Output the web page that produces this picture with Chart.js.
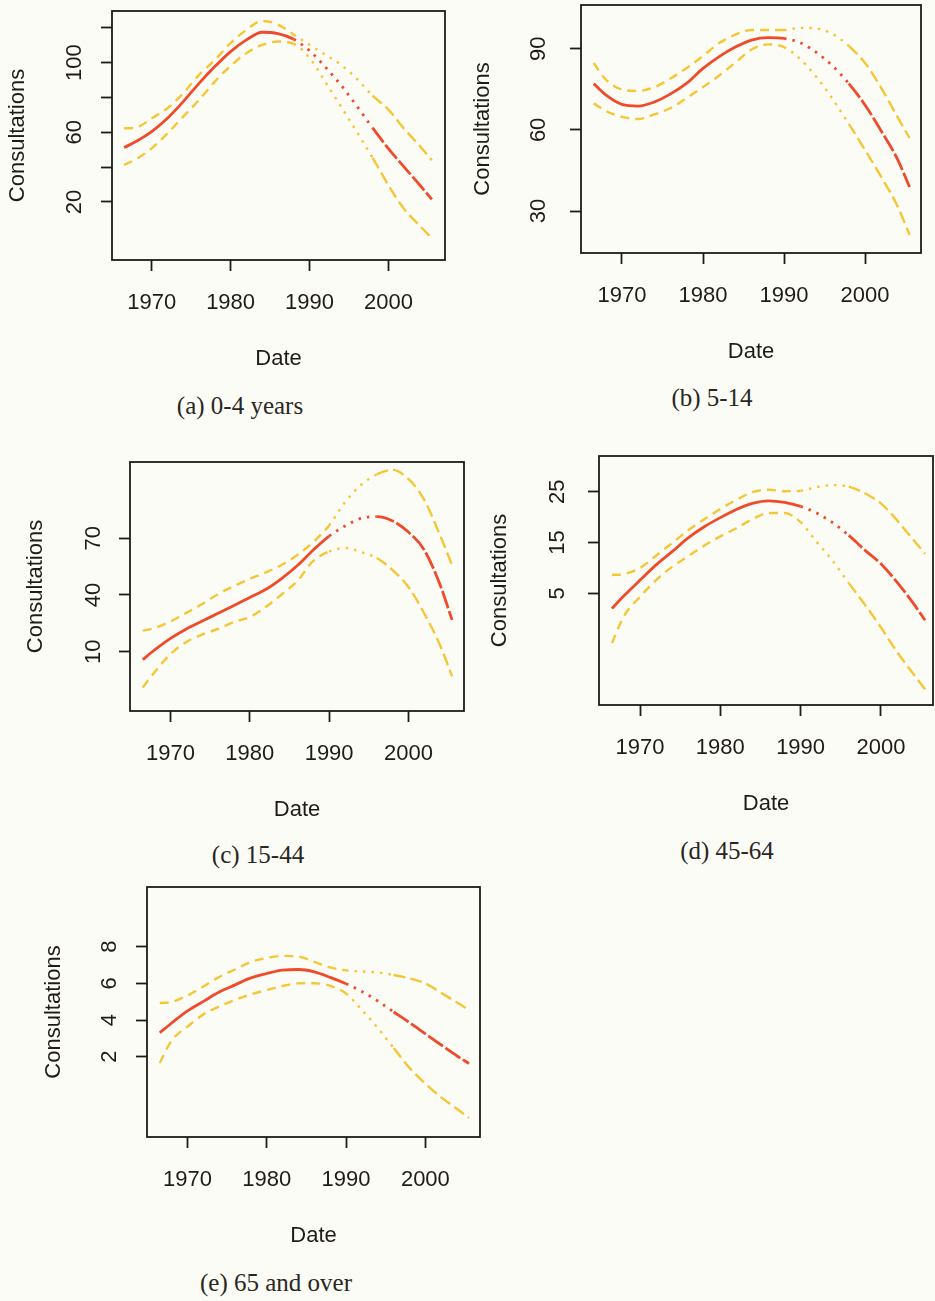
<!DOCTYPE html>
<html>
<head>
<meta charset="utf-8">
<title>Consultations by age group</title>
<script src="https://cdn.jsdelivr.net/npm/chart.js@4.4.0/dist/chart.umd.min.js"></script>
<style>
    html, body {
        margin: 0;
        padding: 0;
    }

    body {
        position: relative;
        width: 935px;
        height: 1301px;
        overflow: hidden;
        background: #fcfcf7;
    }

    .panel-canvas {
        position: absolute;
    }

    .caption {
        position: absolute;
        transform: translate(-50%, -50%);
        font-family: "Liberation Serif", "Times New Roman", serif;
        font-size: 25px;
        color: #2a2622;
        white-space: nowrap;
    }
</style>
</head>
<body>
<div class="caption" style="left:240px; top:406px;">(a) 0-4 years</div>
<div class="caption" style="left:712px; top:398px;">(b) 5-14</div>
<div class="caption" style="left:258px; top:855px;">(c) 15-44</div>
<div class="caption" style="left:727px; top:851px;">(d) 45-64</div>
<div class="caption" style="left:276px; top:1283px;">(e) 65 and over</div>

<script>
// Sample dates shared by every panel
const dates = [1966.5, 1968, 1970, 1972, 1974, 1976, 1978, 1980, 1982, 1984, 1986,
    1988, 1990, 1992, 1994, 1996, 1998, 2000, 2002, 2004, 2005.5];
const xTicks = [1970, 1980, 1990, 2000];

// (a) 0-4 years
const fitA = [51.2, 54.7, 60.4, 68.0, 77.6, 88.1, 97.7, 106.3, 113.0, 117.4, 116.6,
    113.4, 106.8, 97.5, 87.0, 75.0, 62.5, 50.6, 40.0, 29.6, 21.5];
const upperA = [62.3, 62.7, 68.0, 73.8, 82.4, 92.9, 101.5, 111.1, 118.8, 123.9, 121.8,
    116.0, 110.2, 104.5, 98.7, 90.7, 81.0, 73.0, 62.0, 52.0, 44.0];
const lowerA = [41.3, 44.5, 50.8, 59.4, 69.0, 78.6, 89.1, 98.1, 105.4, 110.1, 112.1,
    110.7, 102.7, 89.0, 74.7, 60.2, 45.3, 29.6, 15.9, 6.2, -0.7];
const yTicksA = [20, 40, 60, 80, 100, 120];
const yLabelsA = [20, 60, 100];

// (b) 5-14
const fitB = [77.1, 72.9, 69.4, 68.8, 70.3, 73.3, 77.3, 82.7, 87.1, 90.6, 93.2,
    94.1, 93.8, 92.2, 88.6, 83.6, 77.1, 69.2, 59.6, 49.2, 38.9];
const upperB = [84.7, 78.6, 74.9, 74.4, 75.8, 79.0, 82.9, 87.3, 92.1, 95.2, 96.9,
    96.9, 96.9, 97.7, 97.5, 95.4, 91.0, 84.7, 75.5, 64.8, 57.0];
const lowerB = [69.8, 67.0, 64.8, 64.0, 65.7, 68.1, 71.8, 75.8, 80.1, 84.9, 89.7,
    91.6, 90.6, 86.2, 79.5, 71.4, 62.2, 52.6, 42.6, 31.9, 21.2];
const yTicksB = [30, 60, 90];
const yLabelsB = [30, 60, 90];

// (c) 15-44
const fitC = [5.8, 10.9, 17.0, 22.0, 26.2, 30.3, 34.4, 38.7, 42.9, 48.7, 55.6,
    63.8, 71.2, 76.5, 80.5, 81.5, 79.2, 73.3, 63.8, 45.3, 26.8];
const upperC = [21.1, 22.5, 26.0, 30.5, 35.2, 40.5, 44.7, 48.5, 51.9, 55.9, 61.2,
    68.0, 76.8, 89.1, 98.2, 103.8, 106.2, 101.4, 90.3, 71.5, 55.9];
const lowerC = [-9.0, -0.8, 8.7, 15.1, 19.1, 22.0, 25.7, 28.3, 33.6, 40.2, 47.4,
    58.0, 63.0, 64.9, 62.7, 59.6, 53.2, 44.2, 30.2, 13.3, -3.0];
const yTicksC = [10, 40, 70];
const yLabelsC = [10, 40, 70];

// (d) 45-64
const fitD = [2.0, 4.5, 7.6, 10.6, 13.2, 15.9, 18.1, 19.9, 21.5, 22.7, 23.2,
    22.9, 22.1, 20.8, 18.9, 16.4, 13.5, 10.8, 7.2, 3.1, -0.3];
const upperD = [8.6, 8.8, 10.0, 12.4, 14.9, 17.4, 19.6, 21.6, 23.4, 24.9, 25.4,
    25.1, 25.2, 25.9, 26.3, 26.0, 24.7, 22.7, 19.4, 15.6, 12.8];
const lowerD = [-4.8, 0.5, 4.3, 7.6, 10.2, 12.3, 14.4, 16.2, 17.8, 19.6, 20.8,
    20.8, 19.0, 15.1, 11.4, 7.0, 2.8, -1.7, -6.5, -10.8, -13.9];
const yTicksD = [5, 15, 25];
const yLabelsD = [5, 15, 25];

// (e) 65 and over
const fitE = [3.31, 3.84, 4.50, 5.02, 5.53, 5.92, 6.30, 6.54, 6.73, 6.76, 6.63,
    6.33, 5.98, 5.56, 5.04, 4.44, 3.86, 3.25, 2.64, 2.04, 1.63];
const upperE = [4.93, 4.99, 5.34, 5.83, 6.35, 6.76, 7.17, 7.39, 7.50, 7.47, 7.17,
    6.87, 6.71, 6.65, 6.60, 6.46, 6.27, 6.00, 5.48, 4.96, 4.55];
const lowerE = [1.66, 2.89, 3.64, 4.31, 4.74, 5.10, 5.40, 5.64, 5.86, 6.00, 6.01,
    5.87, 5.45, 4.55, 3.57, 2.48, 1.39, 0.53, -0.22, -0.85, -1.34];
const yTicksE = [2, 4, 6, 8];
const yLabelsE = [2, 4, 6, 8];

// Look
const AXIS_FONT = { family: '"Liberation Sans", Arial, sans-serif', size: 22 };
const INK = '#1f1c18';
const RED = '#ef4a2b';
const YELLOW = '#f5c636';
const TICK_LEN = 11;
const Y_AXIS_W = 120;
const X_AXIS_H = 120;
const PAD_TOP = 4;
const PAD_RIGHT = 6;

// solid / dotted / long dash, switched at the panel's break years
const RED_DASH = [[], [2.5, 6], [18, 3]];
const BAND_DASH = [[9, 6], [2.5, 6], [12, 5]];

const panels = [
    { fit: fitA, upper: upperA, lower: lowerA, yTicks: yTicksA, yLabels: yLabelsA,
      box: { left: 112, top: 11, right: 445, bottom: 260 },
      xRange: [1964.97, 2007.17], yRange: [-13.3, 129.6],
      labelGap: 37, titleGap: 94, breaks: [1988, 1998] },
    { fit: fitB, upper: upperB, lower: lowerB, yTicks: yTicksB, yLabels: yLabelsB,
      box: { left: 581, top: 5, right: 921, bottom: 253 },
      xRange: [1964.94, 2006.91], yRange: [14.5, 106.15],
      labelGap: 42, titleGap: 98, breaks: [1990, 1998] },
    { fit: fitC, upper: upperC, lower: lowerC, yTicks: yTicksC, yLabels: yLabelsC,
      box: { left: 130, top: 462, right: 464, bottom: 711 },
      xRange: [1964.89, 2007.01], yRange: [-21.42, 110.39],
      labelGap: 36, titleGap: 94, breaks: [1990, 1996] },
    { fit: fitD, upper: upperD, lower: lowerD, yTicks: yTicksD, yLabels: yLabelsD,
      box: { left: 599, top: 456, right: 933, bottom: 705 },
      xRange: [1964.89, 2006.49], yRange: [-16.99, 32.03],
      labelGap: 41, titleGap: 99, breaks: [1990, 1996] },
    { fit: fitE, upper: upperE, lower: lowerE, yTicks: yTicksE, yLabels: yLabelsE,
      box: { left: 147, top: 887, right: 480, bottom: 1137 },
      xRange: [1964.89, 2006.89], yRange: [-2.38, 11.26],
      labelGap: 37, titleGap: 93, breaks: [1990, 1996] }
];

// box round the plot region, like R's bty="o"
const framePlugin = {
    id: 'frame',
    afterDraw(chart) {
        const { ctx, chartArea: a } = chart;
        ctx.save();
        ctx.strokeStyle = INK;
        ctx.lineWidth = 1.8;
        ctx.strokeRect(a.left, a.top, a.right - a.left, a.bottom - a.top);
        ctx.restore();
    }
};

function textWidth(str) {
    const ctx = document.createElement('canvas').getContext('2d');
    ctx.font = `${AXIS_FONT.size}px ${AXIS_FONT.family}`;
    return ctx.measureText(str).width;
}

function dashFor(x, breaks, styles) {
    if (x < breaks[0]) return styles[0];
    if (x < breaks[1]) return styles[1];
    return styles[2];
}

function createPanel(p) {
    const canvas = document.createElement('canvas');
    canvas.className = 'panel-canvas';
    canvas.width = p.box.right - p.box.left + Y_AXIS_W + PAD_RIGHT;
    canvas.height = p.box.bottom - p.box.top + PAD_TOP + X_AXIS_H;
    canvas.style.left = (p.box.left - Y_AXIS_W) + 'px';
    canvas.style.top = (p.box.top - PAD_TOP) + 'px';
    document.body.appendChild(canvas);

    // rotated y labels are centred "widest/2" away from the padding edge
    const widest = Math.max(...p.yLabels.map(v => textWidth(String(v))));

    const line = (values, color, width, dashes) => ({
        data: dates.map((d, i) => ({ x: d, y: values[i] })),
        borderColor: color,
        borderWidth: width,
        pointRadius: 0,
        fill: false,
        cubicInterpolationMode: 'monotone',
        segment: {
            borderDash: ctx => dashFor(ctx.p0.parsed.x, p.breaks, dashes)
        }
    });

    return new Chart(canvas, {
        type: 'line',
        data: {
            datasets: [
                line(p.upper, YELLOW, 2.4, BAND_DASH),
                line(p.lower, YELLOW, 2.4, BAND_DASH),
                line(p.fit, RED, 2.8, RED_DASH)
            ]
        },
        options: {
            responsive: false,
            animation: false,
            events: [],
            layout: { padding: { top: PAD_TOP, right: PAD_RIGHT, left: 0, bottom: 0 } },
            plugins: {
                legend: { display: false },
                tooltip: { enabled: false }
            },
            scales: {
                x: {
                    type: 'linear',
                    min: p.xRange[0],
                    max: p.xRange[1],
                    afterBuildTicks: scale => {
                        scale.ticks = xTicks.map(v => ({ value: v }));
                    },
                    afterFit: scale => {
                        scale.height = X_AXIS_H;
                        scale.paddingLeft = 0;
                        scale.paddingRight = 0;
                    },
                    grid: {
                        drawOnChartArea: false,
                        drawTicks: true,
                        tickLength: TICK_LEN,
                        tickWidth: 1.8,
                        tickColor: INK
                    },
                    border: { display: false },
                    ticks: {
                        font: AXIS_FONT,
                        color: INK,
                        padding: 19,
                        maxRotation: 0,
                        autoSkip: false,
                        callback: v => String(v)
                    },
                    title: {
                        display: true,
                        text: 'Date',
                        font: AXIS_FONT,
                        color: INK,
                        padding: { top: 0, bottom: 7.8 }
                    }
                },
                y: {
                    type: 'linear',
                    min: p.yRange[0],
                    max: p.yRange[1],
                    afterBuildTicks: scale => {
                        scale.ticks = p.yTicks.map(v => ({ value: v }));
                    },
                    afterFit: scale => {
                        scale.width = Y_AXIS_W;
                        scale.paddingTop = 0;
                        scale.paddingBottom = 0;
                    },
                    grid: {
                        drawOnChartArea: false,
                        drawTicks: true,
                        tickLength: TICK_LEN,
                        tickWidth: 1.8,
                        tickColor: INK
                    },
                    border: { display: false },
                    ticks: {
                        font: AXIS_FONT,
                        color: INK,
                        minRotation: 90,
                        maxRotation: 90,
                        crossAlign: 'center',
                        padding: p.labelGap - TICK_LEN - widest / 2,
                        autoSkip: false,
                        callback: v => p.yLabels.includes(v) ? String(v) : ''
                    },
                    title: {
                        display: true,
                        text: 'Consultations',
                        font: AXIS_FONT,
                        color: INK,
                        padding: { top: Y_AXIS_W - AXIS_FONT.size * 0.6 - p.titleGap, bottom: 0 }
                    }
                }
            }
        },
        plugins: [framePlugin]
    });
}

panels.forEach(createPanel);
</script>
</body>
</html>
